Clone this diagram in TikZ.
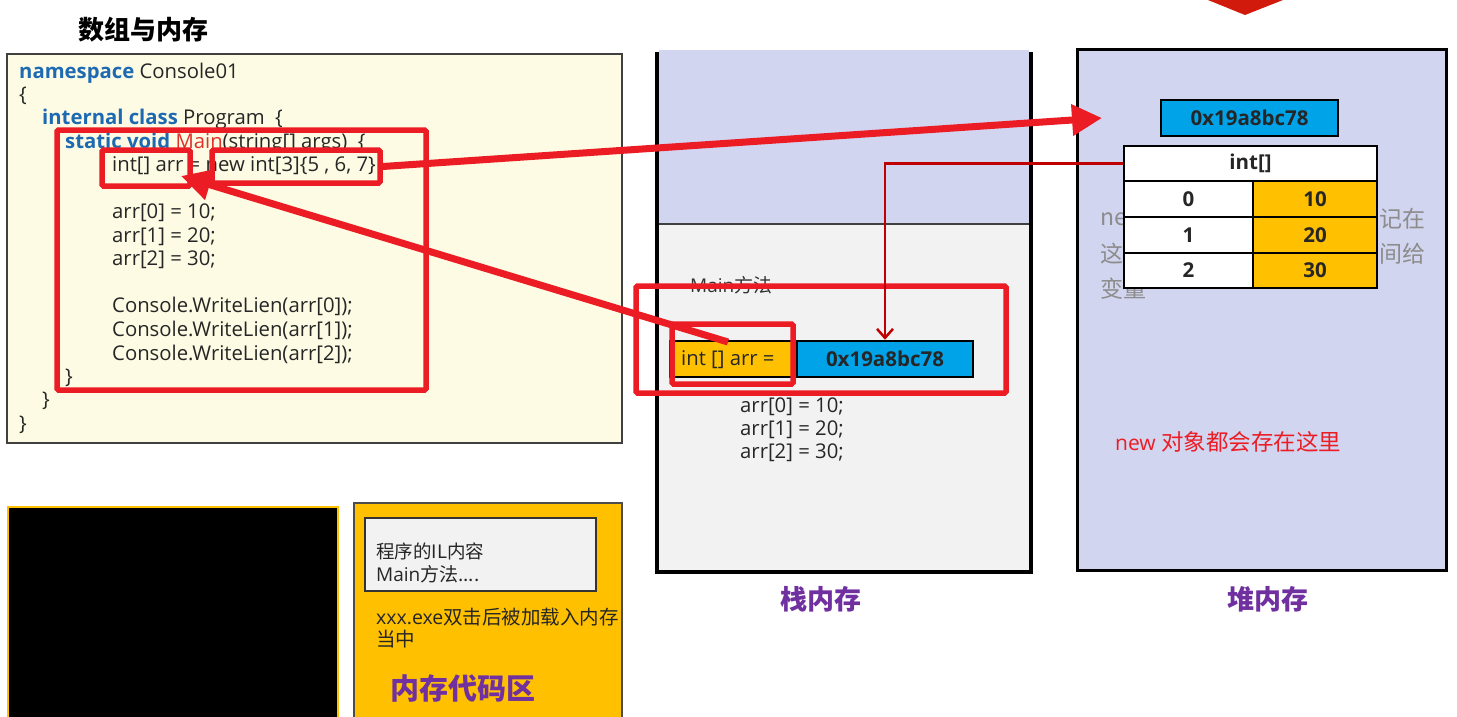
\documentclass[tikz,border=0pt]{standalone}
\usepackage{fontspec}
\setmainfont{Open Sans}
\newfontfamily\cjk{Noto Sans CJK SC}
\usetikzlibrary{arrows.meta}
\definecolor{kw}{HTML}{1D6AB3}
\definecolor{mainred}{HTML}{E0302A}
\definecolor{redl}{HTML}{EC1C24}
\definecolor{darkred}{HTML}{C00000}
\definecolor{lav}{HTML}{D2D5F0}
\definecolor{lgray}{HTML}{F2F2F2}
\definecolor{orangec}{HTML}{FFC000}
\definecolor{blueaddr}{HTML}{00A2E8}
\definecolor{purp}{HTML}{7030A0}
\definecolor{codebg}{HTML}{FDFBE3}
\definecolor{hidgray}{HTML}{8C8C8C}
\definecolor{topred}{HTML}{D11A0B}
\newcommand{\kwd}[1]{\textcolor{kw}{\bfseries #1}}
\begin{document}
\begin{tikzpicture}[x=1pt,y=-1pt,
  every node/.style={inner sep=0pt},
  code/.style={anchor=west, font=\fontsize{20.3}{22}\selectfont, text height=14pt, text depth=5pt, text=black!85},
  redbox/.style={draw=redl, line width=5.5pt, rounded corners=1.5pt},
  bigarrow/.style={draw=redl, line width=7pt, -{Triangle[length=30pt,width=30pt]}},
  thinarrow/.style={draw=darkred, line width=2.5pt, -{Straight Barb[length=9pt,width=16pt]}},
  cell/.style={draw=black, line width=2.5pt, font=\bfseries\fontsize{20.5}{22}\selectfont, text=black!85},
  biglabel/.style={font=\cjk\bfseries\fontsize{27}{29}\selectfont, text=purp},
  hid/.style={anchor=west, font=\cjk\fontsize{23}{25}\selectfont, text=hidgray}
]
\useasboundingbox (0,0) rectangle (1457,717);
\fill[white] (0,0) rectangle (1457,717);

% top red chevron
\fill[topred] (1208,0) -- (1283,0) -- (1245,15) -- cycle;

% title
\node[anchor=west, font=\cjk\bfseries\fontsize{26}{28}\selectfont] (title) at (78,30) {数组与内存};

% code box
\node[draw=black!75, line width=1.5pt, fill=codebg, minimum width=615pt, minimum height=389pt] (codebox) at (314.5,248.5) {};
\node[code] (c1) at (19,74) {\kwd{namespace} Console01};
\node[code] (c2) at (19,97) {\{};
\node[code] (c3) at (42,120) {\kwd{internal class} Program \ \{};
\node[code] (c4) at (65,144) {\kwd{static void} \textcolor{mainred}{Main}(string[] args) \ \{};
\node[code] (c5) at (112,167) {int[] arr = new int[3]\{5 , 6, 7\}};
\node[code] (c6) at (112,214) {arr[0] = 10;};
\node[code] (c7) at (112,238) {arr[1] = 20;};
\node[code] (c8) at (112,261) {arr[2] = 30;};
\node[code] (c9) at (112,308) {Console.WriteLien(arr[0]);};
\node[code] (c10) at (112,332) {Console.WriteLien(arr[1]);};
\node[code] (c11) at (112,356) {Console.WriteLien(arr[2]);};
\node[code] (c12) at (65,379) {\}};
\node[code] (c13) at (42,402) {\}};
\node[code] (c14) at (19,426) {\}};

% red boxes in code
\node[redbox, minimum width=369pt, minimum height=260pt] (mainbox) at (241.5,260) {};
\node[redbox, minimum width=88pt, minimum height=36pt] (arrbox) at (146,168) {};
\node[redbox, minimum width=168pt, minimum height=33pt] (newbox) at (296,166.5) {};

% stack
\fill[lav] (659,50) rectangle (1029,224);
\fill[lgray] (659,224) rectangle (1029,571);
\draw[black!75, line width=1.5pt] (659,224) -- (1029,224);
\draw[black, line width=4pt] (657,52) -- (657,572) -- (1031,572) -- (1031,52);
\node[anchor=west, font=\fontsize{19}{21}\selectfont, text=black!80] (mainlbl) at (690,285) {Main\cjk{方法}};
\node[cell, fill=orangec, minimum width=127pt, minimum height=36pt] (svar) at (733.5,359) {};
\node[anchor=west, font=\fontsize{20.3}{22}\selectfont, text=black!85] (svartxt) at (681,360) {int [] arr =};
\node[cell, fill=blueaddr, minimum width=176pt, minimum height=36pt] (saddr) at (885,359) {0x19a8bc78};
\node[code] (s1) at (740,408) {arr[0] = 10;};
\node[code] (s2) at (740,431) {arr[1] = 20;};
\node[code] (s3) at (740,454) {arr[2] = 30;};
\node[redbox, minimum width=370pt, minimum height=107pt] (smainbox) at (821,339.5) {};
\node[redbox, minimum width=121pt, minimum height=60pt] (sarrbox) at (732.5,354) {};
\node[biglabel] (stacklbl) at (821,599) {栈内存};

% heap
\node[draw=black, line width=3pt, fill=lav, minimum width=369pt, minimum height=520pt] (heap) at (1261.5,310) {};
\node[hid] (h1) at (1100,219) {ne};
\node[hid] (h2) at (1100,254) {这};
\node[hid] (h3) at (1100,289) {变量};
\node[hid] (h4) at (1379,219) {记在};
\node[hid] (h5) at (1379,254) {间给};
\node[cell, fill=blueaddr, minimum width=177pt, minimum height=36pt] (haddr) at (1249.5,118) {0x19a8bc78};
\node[cell, fill=white, minimum width=253pt, minimum height=35pt] (inthead) at (1250.5,163.5) {int[]};
\node[cell, fill=white, minimum width=129pt, minimum height=36pt] (k0) at (1188.5,199) {0};
\node[cell, fill=orangec, minimum width=124pt, minimum height=36pt] (v0) at (1315,199) {10};
\node[cell, fill=white, minimum width=129pt, minimum height=36pt] (k1) at (1188.5,235) {1};
\node[cell, fill=orangec, minimum width=124pt, minimum height=36pt] (v1) at (1315,235) {20};
\node[cell, fill=white, minimum width=129pt, minimum height=35pt] (k2) at (1188.5,270.5) {2};
\node[cell, fill=orangec, minimum width=124pt, minimum height=35pt] (v2) at (1315,270.5) {30};
\node[anchor=west, font=\fontsize{21}{23}\selectfont, text=redl] (newnote) at (1115,442) {new \cjk{\fontsize{22.5}{24}\selectfont 对象都会存在这里}};
\node[biglabel] (heaplbl) at (1268,599) {堆内存};

% bottom left
\draw[draw=orangec, line width=2pt, fill=black] (8,507) rectangle (338,722);
\draw[draw=black!70, line width=1.5pt, fill=orangec] (354,503) rectangle (622,722);
\node[draw=black!80, line width=2pt, fill=lgray, minimum width=231pt, minimum height=73pt] (ilbox) at (480.5,554.5) {};
\node[anchor=west, font=\cjk\fontsize{18.5}{20}\selectfont, text=black!85] (il1) at (376,551) {程序的IL内容};
\node[anchor=west, font=\fontsize{19}{20}\selectfont, text=black!85] (il2) at (376,574) {Main\cjk{方法}....};
\node[anchor=west, font=\fontsize{19.5}{20}\selectfont, text=black!85] (ex1) at (376,617) {xxx.exe\cjk{\fontsize{19.5}{20}\selectfont 双击后被加载入内存}};
\node[anchor=west, font=\cjk\fontsize{19.5}{20}\selectfont, text=black!85] (ex2) at (376,639) {当中};
\node[anchor=west, font=\cjk\bfseries\fontsize{29}{31}\selectfont, text=purp] (codearea) at (390,688) {内存代码区};

% connectors
\coordinate (htip) at (1102,118);
\coordinate (sstart) at (728,342);
\coordinate (ctip) at (181,176);
\draw[thinarrow] (inthead.west) -| (saddr.north);
\draw[bigarrow] (newbox.east) -- (htip);
\draw[bigarrow] (sstart) -- (ctip);
\end{tikzpicture}
\end{document}
